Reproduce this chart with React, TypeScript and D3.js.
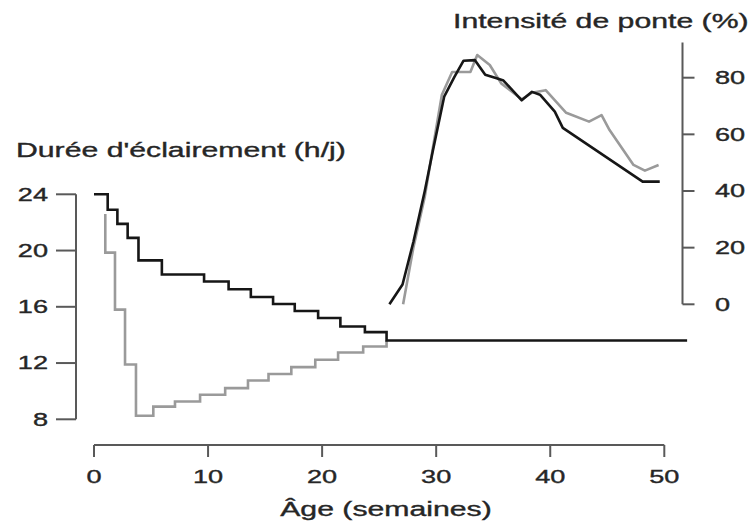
import React from "react";
import * as d3 from "d3";

// Lighting programme: step changes (week, hours of light per day)
const lightWeeksA = [0, 1.2, 2.05, 2.95, 3.9, 5.95, 9.65, 11.8, 13.75, 15.7, 17.6, 19.65, 21.6, 23.75, 25.65, 52];
const lightHoursA = [24, 22.9, 21.9, 20.9, 19.3, 18.3, 17.8, 17.25, 16.7, 16.2, 15.7, 15.2, 14.6, 14.2, 13.6, 13.6];

const lightWeeksB = [0.99, 0.99, 1.84, 2.72, 3.68, 5.2, 7.1, 9.3, 11.5, 13.5, 15.3, 17.3, 19.4, 21.4, 23.6, 25.65];
const lightHoursB = [22.6, 19.85, 15.8, 11.9, 8.25, 8.9, 9.27, 9.75, 10.22, 10.76, 11.22, 11.71, 12.23, 12.75, 13.18, 13.6];

// Laying rate (week, % of hens laying)
const layWeeksA = [25.9, 27.05, 28.0, 29.0, 29.7, 30.7, 31.6, 32.4, 33.4, 34.3, 35.3, 35.9, 37.5, 38.4, 39.1, 40.4, 41.1, 48.1, 49.6];
const layRateA = [0, 7, 22, 40, 54, 73.3, 80.3, 86, 86.2, 81, 79.8, 79, 72, 75, 74, 68, 62.3, 43.3, 43.3];

const layWeeksB = [27.1, 28.0, 29.0, 29.7, 30.5, 31.4, 33.0, 33.6, 34.7, 35.7, 37.5, 38.4, 39.6, 41.4, 43.4, 44.5, 45.2, 47.3, 48.3, 49.5];
const layRateB = [0, 20, 38, 55, 74, 82, 82, 88, 84.5, 78, 72.4, 74.7, 75.6, 67.6, 64.5, 66.8, 61.5, 49.2, 47.2, 49.2];

const ageTicks = [0, 10, 20, 30, 40, 50];
const lightTicks = [8, 12, 16, 20, 24];
const layTicks = [0, 20, 40, 60, 80];

const FONT = "'Liberation Sans', Arial, Helvetica, sans-serif";
const TEXT = "#262626";
const AXIS = "#595959";
const SX = 1.55;

function Label({ x, y, size, anchor = "start", children }: { x: number; y: number; size: number; anchor?: string; children: React.ReactNode }) {
  return (
    <text
      transform={`translate(${x},${y}) scale(${SX},1)`}
      fontFamily={FONT}
      fontSize={size}
      fill={TEXT}
      stroke={TEXT}
      strokeWidth={0.35}
      textAnchor={anchor}
    >
      {children}
    </text>
  );
}

export default function App() {
  const x = d3.scaleLinear().domain([0, 50]).range([94, 664.3]);
  const yLight = d3.scaleLinear().domain([8, 24]).range([419.3, 194.3]);
  const yLay = d3.scaleLinear().domain([0, 80]).range([304.3, 77.7]);

  const stepLine = d3
    .line<[number, number]>()
    .x((d) => x(d[0]))
    .y((d) => yLight(d[1]))
    .curve(d3.curveStepAfter);

  const layLine = d3
    .line<[number, number]>()
    .x((d) => x(d[0]))
    .y((d) => yLay(d[1]));

  const lightA = lightWeeksA.map((w, i) => [w, lightHoursA[i]] as [number, number]);
  const lightB = lightWeeksB.map((w, i) => [w, lightHoursB[i]] as [number, number]);
  const layA = layWeeksA.map((w, i) => [w, layRateA[i]] as [number, number]);
  const layB = layWeeksB.map((w, i) => [w, layRateB[i]] as [number, number]);

  const xAxisY = 445;
  const leftAxisX = 76;
  const rightAxisX = 682.5;
  const tickSize = 12;
  const tickFont = 17.5;
  const titleFont = 19.5;

  return (
    <svg
      width={751}
      height={526}
      style={{ position: "absolute", left: 0, top: 0, background: "#fff" }}
    >
      {/* Age axis */}
      <g stroke={AXIS} strokeWidth={2} fill="none">
        <line x1={x(0)} x2={x(50)} y1={xAxisY} y2={xAxisY} />
        {ageTicks.map((t) => (
          <line key={t} x1={x(t)} x2={x(t)} y1={xAxisY} y2={xAxisY + tickSize} />
        ))}
      </g>
      {ageTicks.map((t) => (
        <Label key={t} x={x(t)} y={483} size={tickFont} anchor="middle">
          {t}
        </Label>
      ))}
      <Label x={386} y={516} size={titleFont} anchor="middle">
        Âge (semaines)
      </Label>

      {/* Lighting axis (left) */}
      <g stroke={AXIS} strokeWidth={2} fill="none">
        <line x1={leftAxisX} x2={leftAxisX} y1={yLight(24)} y2={yLight(8)} />
        {lightTicks.map((t) => (
          <line key={t} x1={leftAxisX - 20} x2={leftAxisX} y1={yLight(t)} y2={yLight(t)} />
        ))}
      </g>
      {lightTicks.map((t) => (
        <Label key={t} x={48} y={yLight(t) + 6.3} size={tickFont} anchor="end">
          {t}
        </Label>
      ))}
      <Label x={16} y={157} size={titleFont}>
        Durée d'éclairement (h/j)
      </Label>

      {/* Laying axis (right) */}
      <g stroke={AXIS} strokeWidth={2} fill="none">
        <line x1={rightAxisX} x2={rightAxisX} y1={yLay(92.4)} y2={yLay(0)} />
        {layTicks.map((t) => (
          <line key={t} x1={rightAxisX} x2={rightAxisX + tickSize} y1={yLay(t)} y2={yLay(t)} />
        ))}
      </g>
      {layTicks.map((t) => (
        <Label key={t} x={715} y={yLay(t) + 6.3} size={tickFont}>
          {t}
        </Label>
      ))}
      <Label x={453} y={28} size={titleFont}>
        Intensité de ponte (%)
      </Label>

      {/* Series */}
      <path d={stepLine(lightB) || ""} fill="none" stroke="#9a9a9a" strokeWidth={2.6} />
      <path d={stepLine(lightA) || ""} fill="none" stroke="#161616" strokeWidth={2.6} />
      <path d={layLine(layB) || ""} fill="none" stroke="#9a9a9a" strokeWidth={2.6} strokeLinejoin="round" />
      <path d={layLine(layA) || ""} fill="none" stroke="#161616" strokeWidth={2.6} strokeLinejoin="round" />
    </svg>
  );
}
